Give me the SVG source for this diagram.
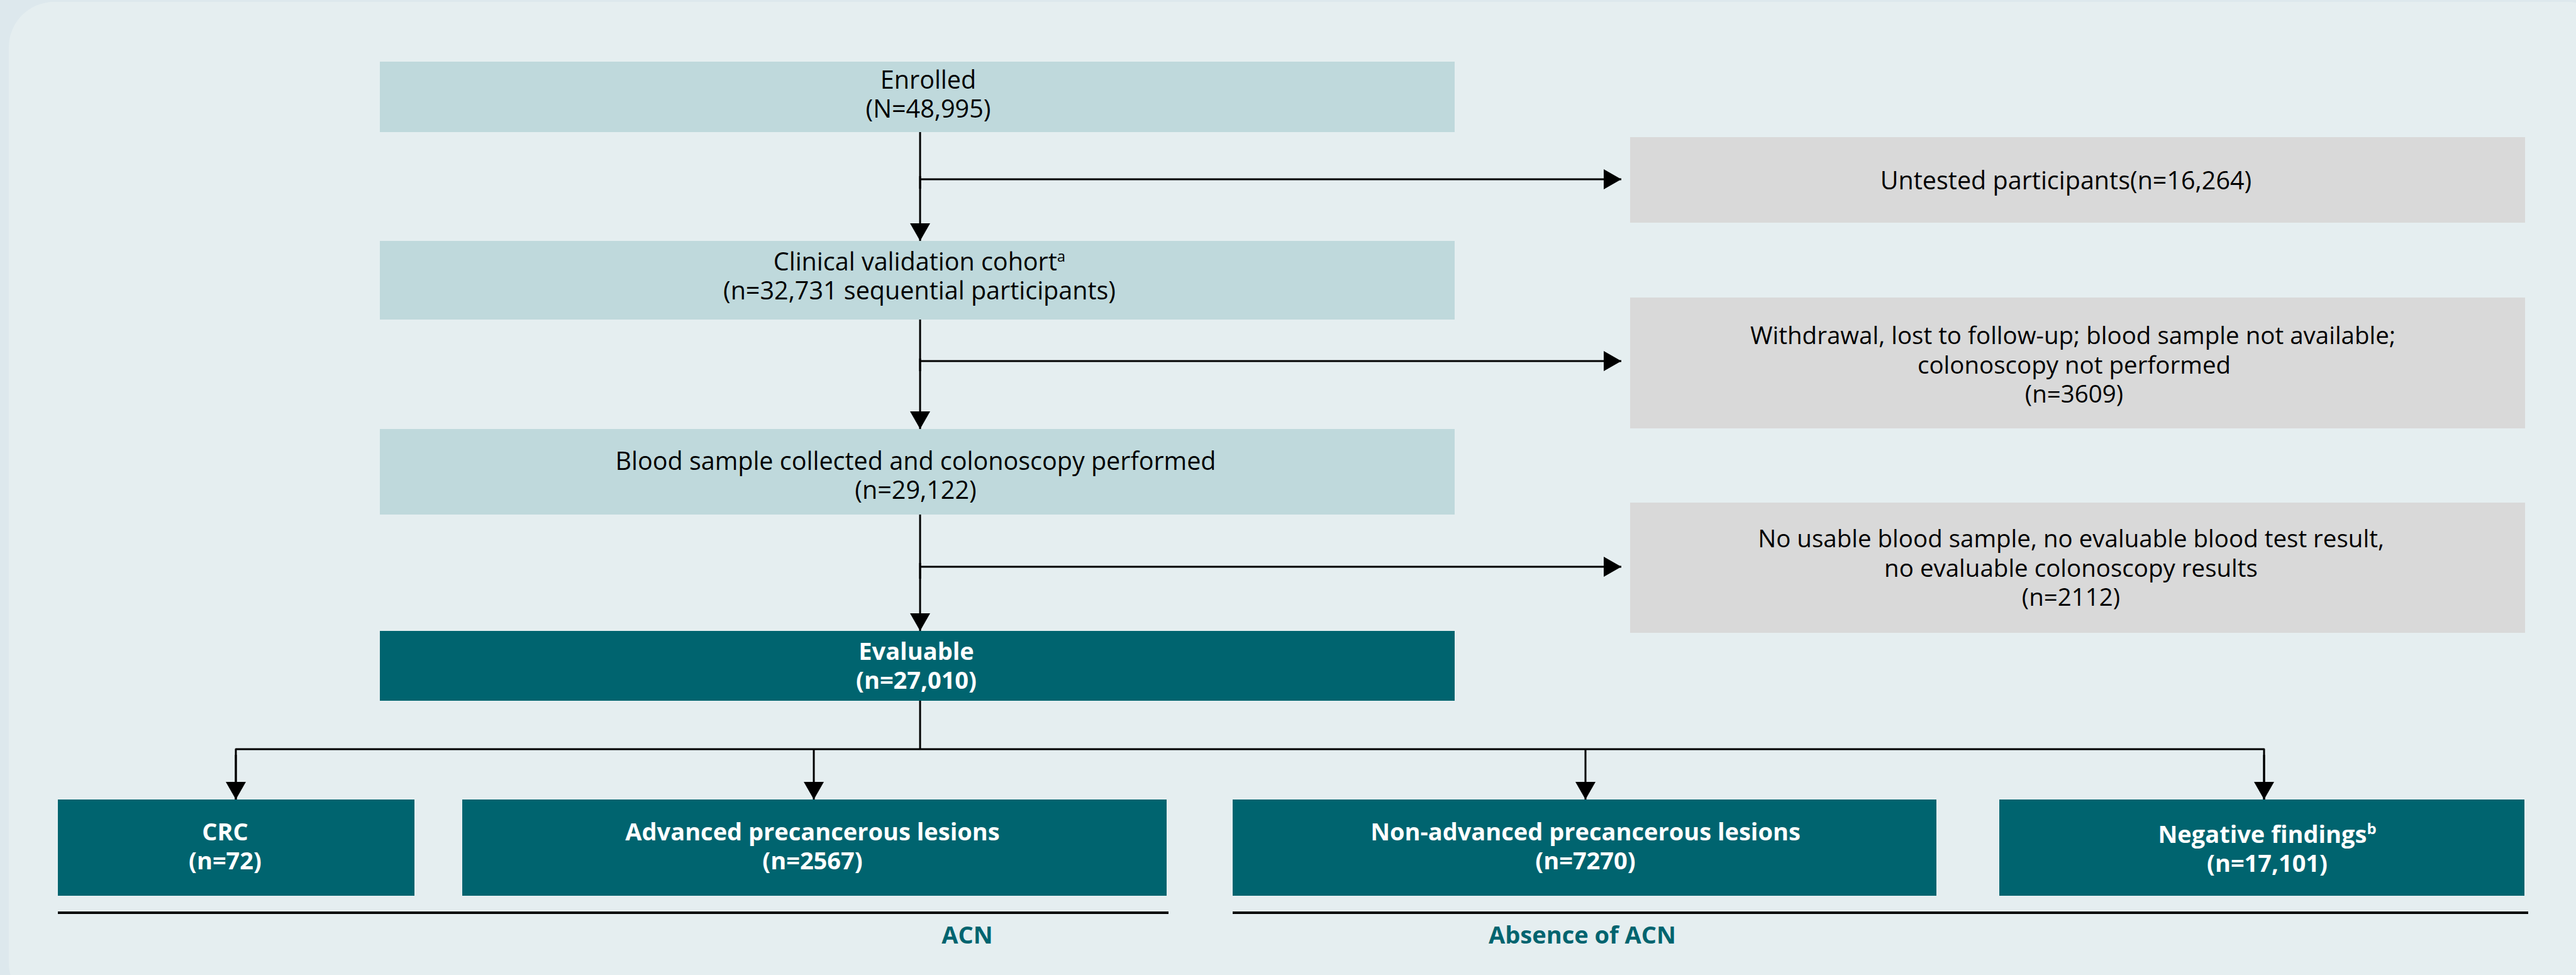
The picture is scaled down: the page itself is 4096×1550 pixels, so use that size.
<svg xmlns="http://www.w3.org/2000/svg" width="4096" height="1550" viewBox="0 0 4096 1550">
  <style>
    .light { fill: #bfd9dc; }
    .gray { fill: #d9d9d9; }
    .teal { fill: #00646f; }
    .t { font-family: "Open Sans", "Noto Sans", sans-serif; font-size: 39.5px; fill: #000; text-anchor: middle; }
    .g { font-size: 38.5px; }
    .b { font-family: "Open Sans", "Noto Sans", sans-serif; font-size: 38px; font-weight: 700; fill: #ffffff; text-anchor: middle; }
    .lbl { font-family: "Open Sans", "Noto Sans", sans-serif; font-size: 38px; font-weight: 700; fill: #00646f; text-anchor: middle; }
    .sup { font-size: 24px; }
    .conn { stroke: #000; stroke-width: 3; fill: none; }
    .arr { stroke: #000; stroke-width: 3; fill: none; marker-end: url(#ah); }
    .rule { stroke: #000; stroke-width: 4; }
  </style>
  <defs>
    <marker id="ah" markerUnits="userSpaceOnUse" markerWidth="28" markerHeight="32" refX="28" refY="16" orient="auto" viewBox="0 0 28 32">
      <path d="M0,0 L28,16 L0,32 Z" fill="#000"/>
    </marker>
  </defs>

  <rect x="0" y="0" width="4096" height="1550" fill="#dde8ed"/>
  <rect x="14" y="3" width="4140" height="1600" rx="72" ry="72" fill="#e5eef0"/>

  <g id="connectors">
    <line class="conn" x1="1463" y1="210" x2="1463" y2="300"/>
    <line class="arr" x1="1463" y1="280" x2="1463" y2="383"/>
    <line class="arr" x1="1463" y1="285" x2="2578" y2="285"/>
    <line class="conn" x1="1463" y1="508" x2="1463" y2="590"/>
    <line class="arr" x1="1463" y1="570" x2="1463" y2="682"/>
    <line class="arr" x1="1463" y1="574" x2="2578" y2="574"/>
    <line class="conn" x1="1463" y1="818" x2="1463" y2="920"/>
    <line class="arr" x1="1463" y1="895" x2="1463" y2="1003"/>
    <line class="arr" x1="1463" y1="901" x2="2578" y2="901"/>
    <line class="conn" x1="1463" y1="1114" x2="1463" y2="1191"/>
    <polyline class="conn" points="375,1271 375,1191 3600,1191 3600,1271" stroke-linejoin="round"/>
    <line class="arr" x1="375" y1="1200" x2="375" y2="1271"/>
    <line class="arr" x1="1294" y1="1191" x2="1294" y2="1271"/>
    <line class="arr" x1="2521" y1="1191" x2="2521" y2="1271"/>
    <line class="arr" x1="3600" y1="1200" x2="3600" y2="1271"/>
  </g>

  <g id="enrolled">
    <rect class="light" x="604" y="98" width="1709" height="112"/>
    <text class="t" x="1476" y="141">Enrolled</text>
    <text class="t" x="1476" y="187">(N=48,995)</text>
  </g>
  <g id="clinical">
    <rect class="light" x="604" y="383" width="1709" height="125"/>
    <text class="t" x="1462" y="430">Clinical validation cohort<tspan class="sup" dy="-14">a</tspan></text>
    <text class="t" x="1462" y="476">(n=32,731 sequential participants)</text>
  </g>
  <g id="blood">
    <rect class="light" x="604" y="682" width="1709" height="136"/>
    <text class="t" x="1456" y="747">Blood sample collected and colonoscopy performed</text>
    <text class="t" x="1456" y="793">(n=29,122)</text>
  </g>
  <g id="evaluable">
    <rect class="teal" x="604" y="1003" width="1709" height="111"/>
    <text class="b" x="1457" y="1049">Evaluable</text>
    <text class="b" x="1457" y="1095">(n=27,010)</text>
  </g>

  <g id="untested">
    <rect class="gray" x="2592" y="218" width="1423" height="136"/>
    <text class="t" x="3285" y="301">Untested participants(n=16,264)</text>
  </g>
  <g id="withdrawal">
    <rect class="gray" x="2592" y="473" width="1423" height="208"/>
    <text class="t g" x="3296" y="547">Withdrawal, lost to follow-up; blood sample not available;</text>
    <text class="t g" x="3298" y="594">colonoscopy not performed</text>
    <text class="t g" x="3298" y="640">(n=3609)</text>
  </g>
  <g id="nousable">
    <rect class="gray" x="2592" y="799" width="1423" height="207"/>
    <text class="t g" x="3293" y="870">No usable blood sample, no evaluable blood test result,</text>
    <text class="t g" x="3293" y="917">no evaluable colonoscopy results</text>
    <text class="t g" x="3293" y="963">(n=2112)</text>
  </g>

  <g id="crc">
    <rect class="teal" x="92" y="1271" width="567" height="153"/>
    <text class="b" x="358" y="1336">CRC</text>
    <text class="b" x="358" y="1382">(n=72)</text>
  </g>
  <g id="apl">
    <rect class="teal" x="735" y="1271" width="1120" height="153"/>
    <text class="b" x="1292" y="1336">Advanced precancerous lesions</text>
    <text class="b" x="1292" y="1382">(n=2567)</text>
  </g>
  <g id="napl">
    <rect class="teal" x="1960" y="1271" width="1119" height="153"/>
    <text class="b" x="2521" y="1336">Non-advanced precancerous lesions</text>
    <text class="b" x="2521" y="1382">(n=7270)</text>
  </g>
  <g id="negative">
    <rect class="teal" x="3179" y="1271" width="835" height="153"/>
    <text class="b" x="3605" y="1340">Negative findings<tspan class="sup" dy="-14">b</tspan></text>
    <text class="b" x="3605" y="1386">(n=17,101)</text>
  </g>

  <g id="acn">
    <line class="rule" x1="92" y1="1451" x2="1858" y2="1451"/>
    <text class="lbl" x="1538" y="1500">ACN</text>
  </g>
  <g id="absence">
    <line class="rule" x1="1960" y1="1451" x2="4020" y2="1451"/>
    <text class="lbl" x="2516" y="1500">Absence of ACN</text>
  </g>
</svg>
